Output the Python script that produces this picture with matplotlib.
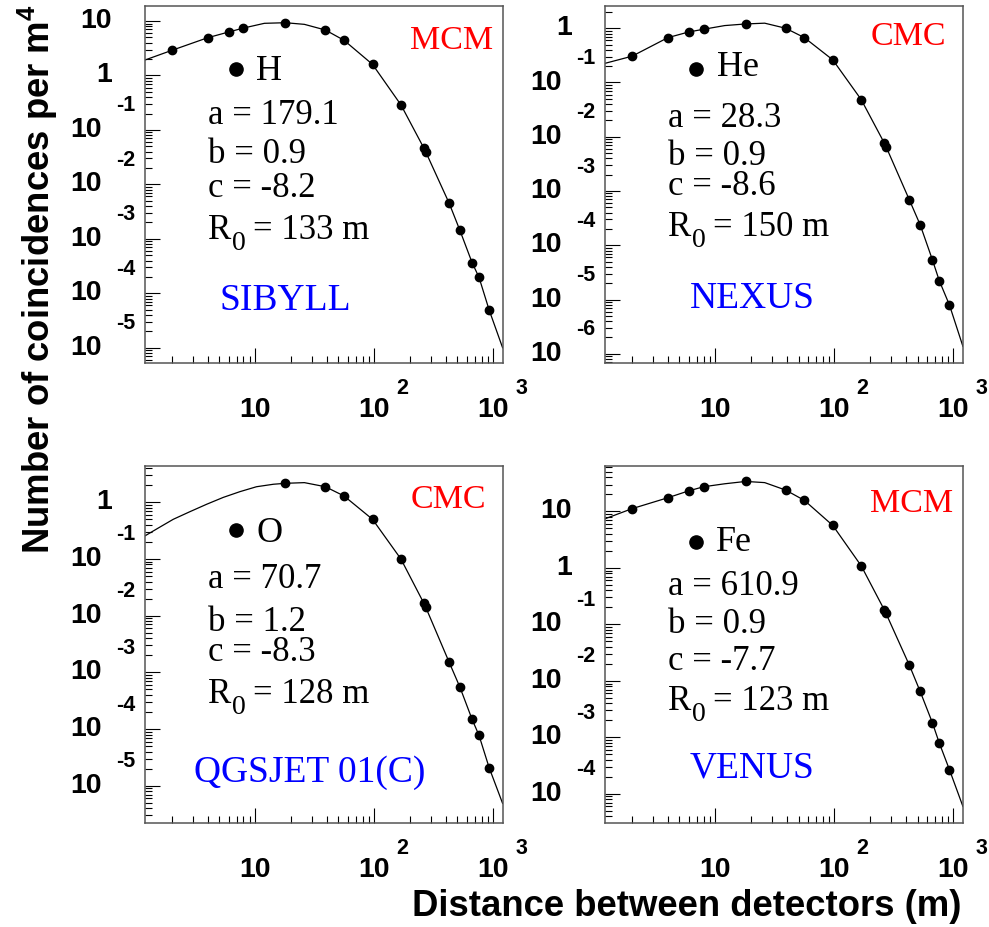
import numpy as np
import matplotlib
matplotlib.use("Agg")
import matplotlib.pyplot as plt
from matplotlib.ticker import LogLocator, NullFormatter

plt.rcParams["mathtext.fontset"] = "custom"
plt.rcParams["mathtext.rm"] = "Liberation Sans:bold"
plt.rcParams["mathtext.bf"] = "Liberation Sans:bold"

# distances of the simulated points (m)
r_pts = [2.0, 4.0, 6.0, 8.0, 18, 39, 56, 97, 168, 262, 272, 427, 525, 665, 760, 925]
r_pts_O = [18, 39, 56, 97, 168, 262, 272, 427, 525, 665, 760, 925]

# simulated coincidences per m^4
y_H = [2.89, 4.93, 6.28, 7.43, 9.31, 6.84, 4.42, 1.60, 0.289, 0.0469, 0.0391,
       4.51e-3, 1.44e-3, 3.66e-4, 1.97e-4, 4.93e-5]
y_He = [0.305, 0.671, 0.855, 0.959, 1.20, 1.00, 0.671, 0.261, 0.0484, 7.82e-3,
        6.52e-3, 6.79e-4, 2.39e-4, 5.41e-5, 2.22e-5, 7.92e-6]
y_O = [2.16, 1.88, 1.29, 0.501, 0.100, 0.0166, 0.0141, 1.51e-3, 5.53e-4,
       1.49e-4, 7.78e-5, 2.09e-5]
y_Fe = [11.2, 17.5, 23.2, 27.4, 34.0, 23.9, 15.7, 5.65, 1.09, 0.180, 0.159,
        0.0188, 6.52e-3, 1.82e-3, 7.96e-4, 2.68e-4]

# fitted curves
r_fit = [1.19, 2, 4, 6, 8, 12, 18, 26, 39, 56, 97, 168, 267, 427, 525, 665, 760, 925, 1200]
r_fit_O = [1.19, 1.59, 2.06, 2.84, 3.93, 5.42, 7.48, 10.3, 14.3, 18, 26, 39, 56, 97,
           168, 267, 427, 525, 665, 760, 925, 1200]
f_H = [1.92, 2.89, 4.93, 6.28, 7.43, 9.08, 9.31, 8.69, 6.84, 4.42, 1.60, 0.289,
       0.0428, 4.51e-3, 1.44e-3, 3.66e-4, 1.97e-4, 4.93e-5, 1.0e-5]
f_He = [0.226, 0.305, 0.671, 0.855, 0.959, 1.12, 1.20, 1.24, 1.00, 0.671, 0.261,
        0.0484, 7.14e-3, 6.79e-4, 2.39e-4, 5.41e-5, 2.22e-5, 7.92e-6, 1.37e-6]
f_O = [0.255, 0.365, 0.501, 0.682, 0.923, 1.22, 1.54, 1.88, 2.08, 2.16, 2.22, 1.88,
       1.29, 0.501, 0.100, 0.0153, 1.51e-3, 5.53e-4, 1.49e-4, 7.78e-5, 2.09e-5, 4.9e-6]
f_Fe = [7.43, 11.2, 17.5, 23.2, 27.4, 30.9, 34.0, 32.4, 23.9, 15.7, 5.65, 1.09,
        0.169, 0.0188, 6.52e-3, 1.82e-3, 7.96e-4, 2.68e-4, 6.0e-5]

primaries = ["H", "He", "O", "Fe"]
methods = ["MCM", "CMC", "CMC", "MCM"]
models = ["SIBYLL", "NEXUS", "QGSJET 01(C)", "VENUS"]
par_a = ["179.1", "28.3", "70.7", "610.9"]
par_b = ["0.9", "0.9", "1.2", "0.9"]
par_c = ["-8.2", "-8.6", "-8.3", "-7.7"]
par_R0 = ["133", "150", "128", "123"]

panels = [
    dict(rp=r_pts, yp=y_H, rf=r_fit, yf=f_H, ylog=(-5.28, 1.276)),
    dict(rp=r_pts, yp=y_He, rf=r_fit, yf=f_He, ylog=(-6.17, 0.41)),
    dict(rp=r_pts_O, yp=y_O, rf=r_fit_O, yf=f_O, ylog=(-5.65, 0.645)),
    dict(rp=r_pts, yp=y_Fe, rf=r_fit, yf=f_Fe, ylog=(-4.51, 1.81)),
]

# text layout per panel (axes fractions)
txt_pos = [
    dict(meth=(0.974, 0.879), mk=(0.255, 0.823), lab=(0.311, 0.793),
         a=(0.178, 0.669), b=0.559, c=0.466, R=0.346, mod=(0.210, 0.148)),
    dict(meth=(0.953, 0.891), mk=(0.253, 0.824), lab=(0.312, 0.804),
         a=(0.175, 0.660), b=0.555, c=0.471, R=0.356, mod=(0.236, 0.153)),
    dict(meth=(0.955, 0.881), mk=(0.255, 0.820), lab=(0.311, 0.787),
         a=(0.178, 0.657), b=0.538, c=0.454, R=0.334, mod=(0.138, 0.115)),
    dict(meth=(0.972, 0.871), mk=(0.253, 0.787), lab=(0.310, 0.761),
         a=(0.175, 0.638), b=0.531, c=0.427, R=0.316, mod=(0.236, 0.127)),
]

W, H = 989, 927
fig = plt.figure(figsize=(W / 100, H / 100), dpi=100)

boxes = [(144.7, 6), (605, 6), (144.7, 465.7), (605, 465.7)]
aw, ah = 358, 357

px = 0.72  # points per pixel
tick_font = dict(family="Liberation Sans", weight="bold", color="black")
serif = "Liberation Serif"

for i, (x0, y0) in enumerate(boxes):
    ax = fig.add_axes([x0 / W, 1 - (y0 + ah) / H, aw / W, ah / H])
    p = panels[i]
    ax.set_xscale("log")
    ax.set_yscale("log")
    ax.plot(p["rf"], p["yf"], color="black", lw=0.9)
    ax.plot(p["rp"], p["yp"], "o", color="black", ms=6)
    ax.set_xlim(1.186, 1202)
    lo, hi = p["ylog"]
    ax.set_ylim(10 ** lo, 10 ** hi)

    for s in ax.spines.values():
        s.set_color("#555555")
        s.set_linewidth(1.1)
    ax.xaxis.set_major_locator(LogLocator(base=10, numticks=20))
    ax.yaxis.set_major_locator(LogLocator(base=10, numticks=20))
    ax.xaxis.set_minor_locator(LogLocator(base=10, subs=np.arange(2, 10), numticks=20))
    ax.yaxis.set_minor_locator(LogLocator(base=10, subs=np.arange(2, 10), numticks=20))
    ax.xaxis.set_major_formatter(NullFormatter())
    ax.yaxis.set_major_formatter(NullFormatter())
    ax.xaxis.set_minor_formatter(NullFormatter())
    ax.yaxis.set_minor_formatter(NullFormatter())
    ax.tick_params(which="major", direction="in", length=15 * px, width=0.8,
                   top=False, right=False)
    ax.tick_params(which="minor", direction="in", length=7 * px, width=0.8,
                   top=False, right=False)

    # ROOT style tick labels
    for k in range(int(np.ceil(lo)), int(np.floor(hi)) + 1):
        yy = ("axes fraction", "data")
        if k in (0, 1):
            ax.annotate("1" if k == 0 else "10", xy=(0, 10.0 ** k), xycoords=yy,
                        xytext=(-33 * px, 0), textcoords="offset points",
                        ha="right", va="center", fontsize=20.5, **tick_font)
        else:
            ax.annotate("10", xy=(0, 10.0 ** k), xycoords=yy,
                        xytext=(-43 * px, 0), textcoords="offset points",
                        ha="right", va="center", fontsize=20.5, **tick_font)
            ax.annotate(str(k), xy=(0, 10.0 ** k), xycoords=yy,
                        xytext=(-29 * px, 24 * px), textcoords="offset points",
                        ha="left", va="center", fontsize=15.5, **tick_font)
    for k in (1, 2, 3):
        xx = ("data", "axes fraction")
        ax.annotate("10", xy=(10.0 ** k, 0), xycoords=xx,
                    xytext=(0, -47 * px), textcoords="offset points",
                    ha="center", va="center", fontsize=20.5, **tick_font)
        if k > 1:
            ax.annotate(str(k), xy=(10.0 ** k, 0), xycoords=xx,
                        xytext=(22 * px, -26 * px), textcoords="offset points",
                        ha="left", va="center", fontsize=15.5, **tick_font)

    t = txt_pos[i]
    tr = ax.transAxes
    ax.text(*t["meth"], methods[i], transform=tr, ha="right", va="baseline",
            color="#ff0000", fontsize=24.5, family=serif)
    ax.plot(*t["mk"], "o", color="black", ms=9.5, transform=tr, clip_on=False)
    ax.text(*t["lab"], primaries[i], transform=tr, ha="left", va="baseline",
            fontsize=26, family=serif)
    xa = t["a"][0]
    ax.text(xa, t["a"][1], "a = " + par_a[i], transform=tr, va="baseline",
            fontsize=25, family=serif)
    ax.text(xa, t["b"], "b = " + par_b[i], transform=tr, va="baseline",
            fontsize=25, family=serif)
    ax.text(xa, t["c"], "c = " + par_c[i], transform=tr, va="baseline",
            fontsize=25, family=serif)
    ax.text(xa, t["R"], "R", transform=tr, va="baseline", fontsize=25, family=serif)
    ax.annotate("0", xy=(xa, t["R"]), xycoords="axes fraction",
                xytext=(24 * px, -11 * px), textcoords="offset points",
                va="baseline", fontsize=20, family=serif)
    ax.annotate("= " + par_R0[i] + " m", xy=(xa, t["R"]), xycoords="axes fraction",
                xytext=(45 * px, 0), textcoords="offset points",
                va="baseline", fontsize=25, family=serif)
    ax.text(*t["mod"], models[i], transform=tr, ha="left", va="baseline",
            color="#0000ff", fontsize=27, family=serif)

fig.text(962 / W, 1 - 907 / H, "Distance between detectors (m)", ha="right",
         va="center", fontsize=26.3, family="Liberation Sans", weight="bold")
fig.text(38 / W, 1 - 4 / H, r"Number of coincidences per m$^{4}$", rotation=90,
         ha="center", va="top", fontsize=26.3, family="Liberation Sans",
         weight="bold", math_fontfamily="custom")

fig.savefig("out.png", dpi=100)
